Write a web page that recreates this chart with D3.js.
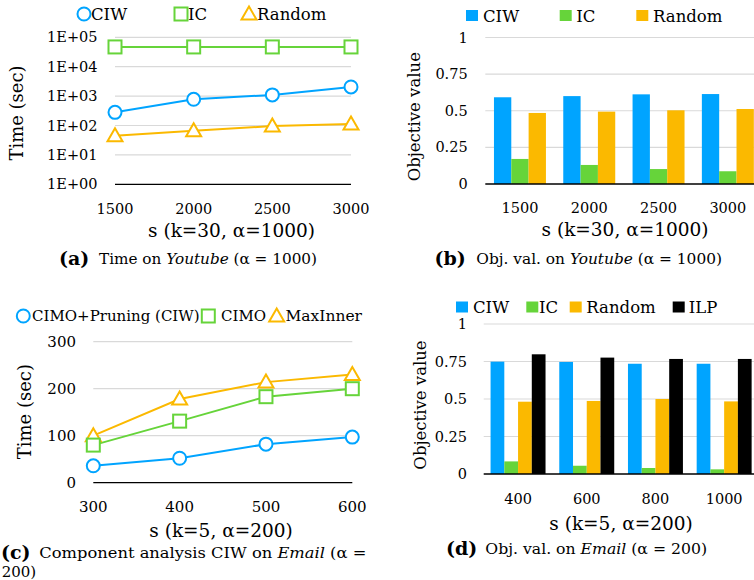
<!DOCTYPE html>
<html><head><meta charset="utf-8">
<script src="https://cdn.jsdelivr.net/npm/d3@7"></script>
<style>body{margin:0;background:#fff}svg{display:block}</style>
</head><body>
<svg id="c" width="754" height="580"></svg>
<script>
// ---- data ----
const sA = ["1500","2000","2500","3000"];
const timeCIW_A = [280, 780, 1100, 2050];
const timeIC_A = [47000, 47000, 47000, 47000];
const timeRandom_A = [45, 66, 96, 112];
const tickA = [1,10,100,1000,10000,100000];
const tickLabelsA = ["1E+00","1E+01","1E+02","1E+03","1E+04","1E+05"];

const objCIW_B = [0.592, 0.600, 0.612, 0.614];
const objIC_B = [0.171, 0.130, 0.102, 0.087];
const objRandom_B = [0.485, 0.494, 0.503, 0.512];
const objTicks = [0, 0.25, 0.5, 0.75, 1];

const sC = ["300","400","500","600"];
const timeCIW_C = [36, 52, 82, 97];
const timeCIMO_C = [80, 131, 183, 200];
const timeMaxInner_C = [100, 178, 214, 230];
const tickC = [0,100,200,300];

const sD = ["400","600","800","1000"];
const objCIW_D = [0.749, 0.747, 0.735, 0.735];
const objIC_D = [0.084, 0.055, 0.040, 0.031];
const objRandom_D = [0.482, 0.487, 0.500, 0.484];
const objILP_D = [0.798, 0.776, 0.767, 0.767];

const BLUE="#00a4ff", GREEN="#66d43a", ORANGE="#fbb900", BLACK="#000";
const SERIF="'DejaVu Serif', serif";
const CAP="'DejaVu Serif', serif";

const svg = d3.select("#c");

function marker(g, type, x, y, color){
  if(type==="circle") g.append("circle").attr("cx",x).attr("cy",y).attr("r",6.5)
     .attr("fill","#fff").attr("stroke",color).attr("stroke-width",2);
  else if(type==="square") g.append("rect").attr("x",x-6.5).attr("y",y-6.5).attr("width",13).attr("height",13)
     .attr("fill","#fff").attr("stroke",color).attr("stroke-width",2);
  else g.append("path").attr("d",`M${x},${y-7.5}L${x+7.5},${y+5.5}L${x-7.5},${y+5.5}Z`)
     .attr("fill","#fff").attr("stroke",color).attr("stroke-width",2);
}
function txt(x,y,s,opt={}){
  const t=svg.append("text").attr("x",x).attr("y",y).text(s)
   .attr("font-family",opt.family||SERIF).attr("font-size",opt.size||14)
   .attr("dominant-baseline","central").attr("text-anchor",opt.anchor||"start").attr("fill","#000");
  if(opt.weight) t.attr("font-weight",opt.weight);
  if(opt.style) t.attr("font-style",opt.style);
  if(opt.rotate) t.attr("transform",`rotate(-90,${x},${y})`);
  return t;
}

// ---- generic line panel ----
function linePanel(cfg){
  const g=svg.append("g");
  const x=d3.scalePoint().domain(cfg.cats).range(cfg.xr).padding(0);
  const y=cfg.y;
  cfg.ticks.forEach((t,i)=>{
    g.append("line").attr("x1",cfg.xr[0]).attr("x2",cfg.xr[1]).attr("y1",y(t)).attr("y2",y(t))
      .attr("stroke", i===0?"#000":"#d9d9d9").attr("stroke-width", i===0?1.3:1.2);
    txt(cfg.tickRight, y(t), cfg.tickLabels[i], {anchor:"end", size:cfg.tickSize});
  });
  cfg.cats.forEach(c=>txt(x(c), cfg.xLabY, c, {anchor:"middle", size:cfg.tickSize}));
  const line=d3.line().x((d,i)=>x(cfg.cats[i])).y(d=>y(d));
  cfg.series.forEach(s=>{
    g.append("path").attr("d",line(s.values)).attr("fill","none").attr("stroke",s.color).attr("stroke-width",2);
  });
  cfg.series.forEach(s=>{
    s.values.forEach((v,i)=>marker(g,s.marker,x(cfg.cats[i]),y(v),s.color));
  });
  return x;
}

// ---- generic bar panel ----
function barPanel(cfg){
  const g=svg.append("g");
  const x=d3.scaleBand().domain(cfg.cats).range(cfg.xr).padding(0);
  const bw=x.bandwidth();
  const inner=d3.scaleBand().domain(cfg.series.map(s=>s.name)).range([bw*(1-cfg.groupFrac)/2, bw*(1+cfg.groupFrac)/2]).padding(0);
  const y=d3.scaleLinear().domain([0,1]).range(cfg.yr);
  cfg.ticks.forEach((t,i)=>{
    if(i>0) g.append("line").attr("x1",cfg.xr[0]).attr("x2",cfg.xr[1]).attr("y1",y(t)).attr("y2",y(t))
      .attr("stroke","#d9d9d9").attr("stroke-width",1.2);
    txt(cfg.tickRight, y(t), String(t), {anchor:"end", size:cfg.tickSize});
  });
  cfg.series.forEach(s=>{
    s.values.forEach((v,i)=>{
      g.append("rect").attr("x",x(cfg.cats[i])+inner(s.name)).attr("width",inner.bandwidth())
       .attr("y",y(v)).attr("height",y(0)-y(v)).attr("fill",s.color);
    });
  });
  g.append("line").attr("x1",cfg.xr[0]).attr("x2",cfg.xr[1]).attr("y1",y(0)).attr("y2",y(0))
    .attr("stroke","#000").attr("stroke-width",1.3);
  cfg.cats.forEach(c=>txt(x(c)+bw/2, cfg.xLabY, c, {anchor:"middle", size:cfg.tickSize}));
}

const TICK=14.5, LEG=16.5, XT=18.5;

// ===== Panel (a) =====
const yA=d3.scaleLog().domain([1,1e5]).range([184.3,37.3]);
linePanel({cats:sA, xr:[115,351], y:yA, ticks:tickA, tickLabels:tickLabelsA, tickRight:97.5, tickSize:TICK, xLabY:209,
  series:[{values:timeIC_A,color:GREEN,marker:"square"},{values:timeCIW_A,color:BLUE,marker:"circle"},{values:timeRandom_A,color:ORANGE,marker:"triangle"}]});
{const g=svg.append("g");
 marker(g,"circle",84,14,BLUE); txt(91,14,"CIW",{size:LEG});
 marker(g,"square",181,14,GREEN); txt(188,14,"IC",{size:LEG});
 marker(g,"triangle",249,14,ORANGE); txt(257,14,"Random",{size:LEG});}
txt(16,113,"Time (sec)",{anchor:"middle",size:18,rotate:true});
txt(231.5,230,"s (k=30, α=1000)",{anchor:"middle",size:XT});

// ===== Panel (b) =====
barPanel({cats:sA, xr:[485.3,762.5], yr:[184,37.5], groupFrac:0.75, ticks:objTicks, tickRight:467.7, tickSize:TICK, xLabY:208,
  series:[{name:"CIW",values:objCIW_B,color:BLUE},{name:"IC",values:objIC_B,color:GREEN},{name:"Random",values:objRandom_B,color:ORANGE}]});
{const items=[["CIW",BLUE,466,483],["IC",GREEN,559.7,576.3],["Random",ORANGE,636.3,653]];
 items.forEach(([n,c,sx,tx])=>{svg.append("rect").attr("x",sx).attr("y",10).attr("width",12).attr("height",11).attr("fill",c);
   txt(tx,16,n,{size:LEG});});}
txt(414.7,116.7,"Objective value",{anchor:"middle",size:16.5,rotate:true});
txt(625,229,"s (k=30, α=1000)",{anchor:"middle",size:XT});

// ===== Panel (c) =====
const yC=d3.scaleLinear().domain([0,300]).range([482.7,341.7]);
linePanel({cats:sC, xr:[93.3,352.3], y:yC, ticks:tickC, tickLabels:tickC.map(String), tickRight:76, tickSize:15, xLabY:506.7,
  series:[{values:timeMaxInner_C,color:ORANGE,marker:"triangle"},{values:timeCIMO_C,color:GREEN,marker:"square"},{values:timeCIW_C,color:BLUE,marker:"circle"}]});
{const g=svg.append("g");
 marker(g,"circle",23.3,316,BLUE); txt(32,316,"CIMO+Pruning (CIW)",{size:15});
 marker(g,"square",208.3,316,GREEN); txt(221,316,"CIMO",{size:15});
 marker(g,"triangle",276.7,316,ORANGE); txt(285.5,316,"MaxInner",{size:15.5});}
txt(25,411.7,"Time (sec)",{anchor:"middle",size:18,rotate:true});
txt(221,530.7,"s (k=5, α=200)",{anchor:"middle",size:XT});

// ===== Panel (d) =====
barPanel({cats:sD, xr:[483.7,758.5], yr:[474,324], groupFrac:0.8, ticks:objTicks, tickRight:467, tickSize:TICK, xLabY:499.3,
  series:[{name:"CIW",values:objCIW_D,color:BLUE},{name:"IC",values:objIC_D,color:GREEN},{name:"Random",values:objRandom_D,color:ORANGE},{name:"ILP",values:objILP_D,color:BLACK}]});
{const items=[["CIW",BLUE,456,473],["IC",GREEN,526.3,539],["Random",ORANGE,569.7,586.3],["ILP",BLACK,672.7,688.7]];
 items.forEach(([n,c,sx,tx])=>{svg.append("rect").attr("x",sx).attr("y",301.5).attr("width",12).attr("height",11).attr("fill",c);
   txt(tx,307.3,n,{size:LEG});});}
txt(420.3,405,"Objective value",{anchor:"middle",size:16.5,rotate:true});
txt(621,523.3,"s (k=5, α=200)",{anchor:"middle",size:XT});

// ===== Captions =====
function caption(x,y,label,restX,restW,parts){
  svg.append("text").attr("x",x).attr("y",y).attr("dominant-baseline","central")
    .attr("font-family",CAP).attr("font-weight","bold").attr("font-size",19).attr("fill","#000").text(label);
  const t=svg.append("text").attr("x",restX).attr("y",y+1).attr("dominant-baseline","central")
    .attr("font-family",CAP).attr("font-size",15).attr("fill","#000")
    .attr("textLength",restW).attr("lengthAdjust","spacingAndGlyphs");
  parts.forEach(p=>t.append("tspan").attr("font-style",p[1]?"italic":"normal").text(p[0]));
}
caption(59,258,"(a)",99,218,[["Time on "],["Youtube",1],[" (α = 1000)"]]);
caption(434.5,258,"(b)",476.3,245.7,[["Obj. val. on "],["Youtube",1],[" (α = 1000)"]]);
caption(1,551.5,"(c)",39.3,327,[["Component analysis CIW on "],["Email",1],[" (α ="]]);
txt(1.7,572,"200)",{family:CAP,size:15});
caption(446,548,"(d)",485.3,221.7,[["Obj. val. on "],["Email",1],[" (α = 200)"]]);
</script>
</body></html>
